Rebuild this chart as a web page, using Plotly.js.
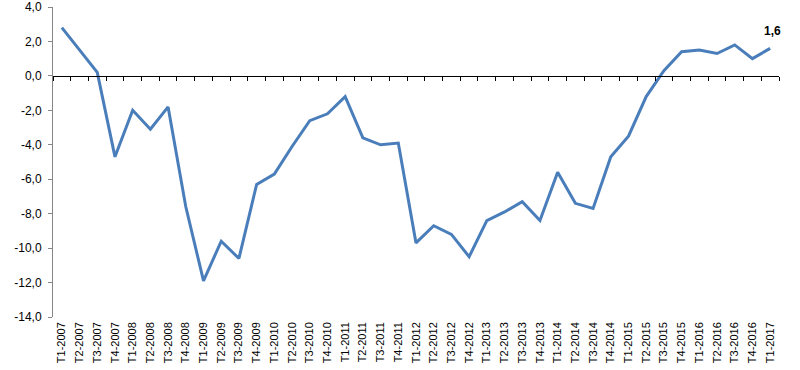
<!DOCTYPE html>
<html><head><meta charset="utf-8">
<script src="https://cdn.plot.ly/plotly-3.0.1.min.js"></script>
<style>html,body{margin:0;padding:0;background:#fff}#chart{width:800px;height:370px}</style>
</head><body><div id="chart"></div>
<script>
const quarters = ["T1-2007","T2-2007","T3-2007","T4-2007","T1-2008","T2-2008","T3-2008","T4-2008","T1-2009","T2-2009","T3-2009","T4-2009","T1-2010","T2-2010","T3-2010","T4-2010","T1-2011","T2-2011","T3-2011","T4-2011","T1-2012","T2-2012","T3-2012","T4-2012","T1-2013","T2-2013","T3-2013","T4-2013","T1-2014","T2-2014","T3-2014","T4-2014","T1-2015","T2-2015","T3-2015","T4-2015","T1-2016","T2-2016","T3-2016","T4-2016","T1-2017"];
const values = [2.8,1.5,0.2,-4.7,-2.0,-3.1,-1.8,-7.6,-11.9,-9.6,-10.6,-6.3,-5.7,-4.1,-2.6,-2.2,-1.2,-3.6,-4.0,-3.9,-9.7,-8.7,-9.2,-10.5,-8.4,-7.9,-7.3,-8.4,-5.6,-7.4,-7.7,-4.7,-3.5,-1.2,0.3,1.4,1.5,1.3,1.8,1.0,1.6];
const yTickVals = [4,2,0,-2,-4,-6,-8,-10,-12,-14];
const yTickText = ["4,0","2,0","0,0","-2,0","-4,0","-6,0","-8,0","-10,0","-12,0","-14,0"];
const lastLabel = "1,6";

const font = "Liberation Sans, Arial, sans-serif";
const traces = [
  {x: quarters, y: values, type: 'scatter', mode: 'lines', line: {color: '#4A7EBB', width: 3}, hoverinfo: 'skip', xaxis: 'x', yaxis: 'y'},
  {x: quarters, y: values, type: 'scatter', mode: 'lines', line: {color: 'rgba(0,0,0,0)', width: 0}, hoverinfo: 'skip', xaxis: 'x2', yaxis: 'y', showlegend: false}
];
const layout = {
  width: 800, height: 370,
  margin: {l: 53, r: 21, t: 7, b: 53},
  paper_bgcolor: '#fff', plot_bgcolor: '#fff',
  showlegend: false,
  font: {family: font, size: 11, color: '#000'},
  xaxis: {
    type: 'category', categoryarray: quarters, range: [-0.5, quarters.length - 0.5],
    showline: false, showgrid: false, zeroline: false, ticks: '', ticklabelstandoff: 2,
    tickangle: -90, tickfont: {family: font, size: 11, color: '#000'}
  },
  xaxis2: {
    type: 'category', categoryarray: quarters, range: [-0.5, quarters.length - 0.5],
    overlaying: 'x', anchor: 'free', position: 14/18,
    showline: true, linecolor: '#000', linewidth: 1,
    ticks: 'outside', tickson: 'boundaries', ticklen: 4, tickcolor: '#000', tickwidth: 1,
    showticklabels: false, showgrid: false, zeroline: false
  },
  yaxis: {
    range: [-14, 4], tickvals: yTickVals, ticktext: yTickText,
    showline: true, linecolor: '#868686', linewidth: 1,
    ticks: 'outside', ticklen: 4, tickcolor: '#868686',
    showgrid: false, zeroline: false, ticklabelstandoff: 4,
    tickfont: {family: font, size: 12, color: '#000'}
  },
  annotations: [{
    x: quarters[quarters.length - 1], y: values[values.length - 1], xref: 'x', yref: 'y',
    text: '<b>' + lastLabel + '</b>', showarrow: false, yshift: 17, xshift: 2,
    font: {family: font, size: 12, color: '#000'}
  }]
};
Plotly.newPlot('chart', traces, layout, {staticPlot: true});
</script></body></html>
